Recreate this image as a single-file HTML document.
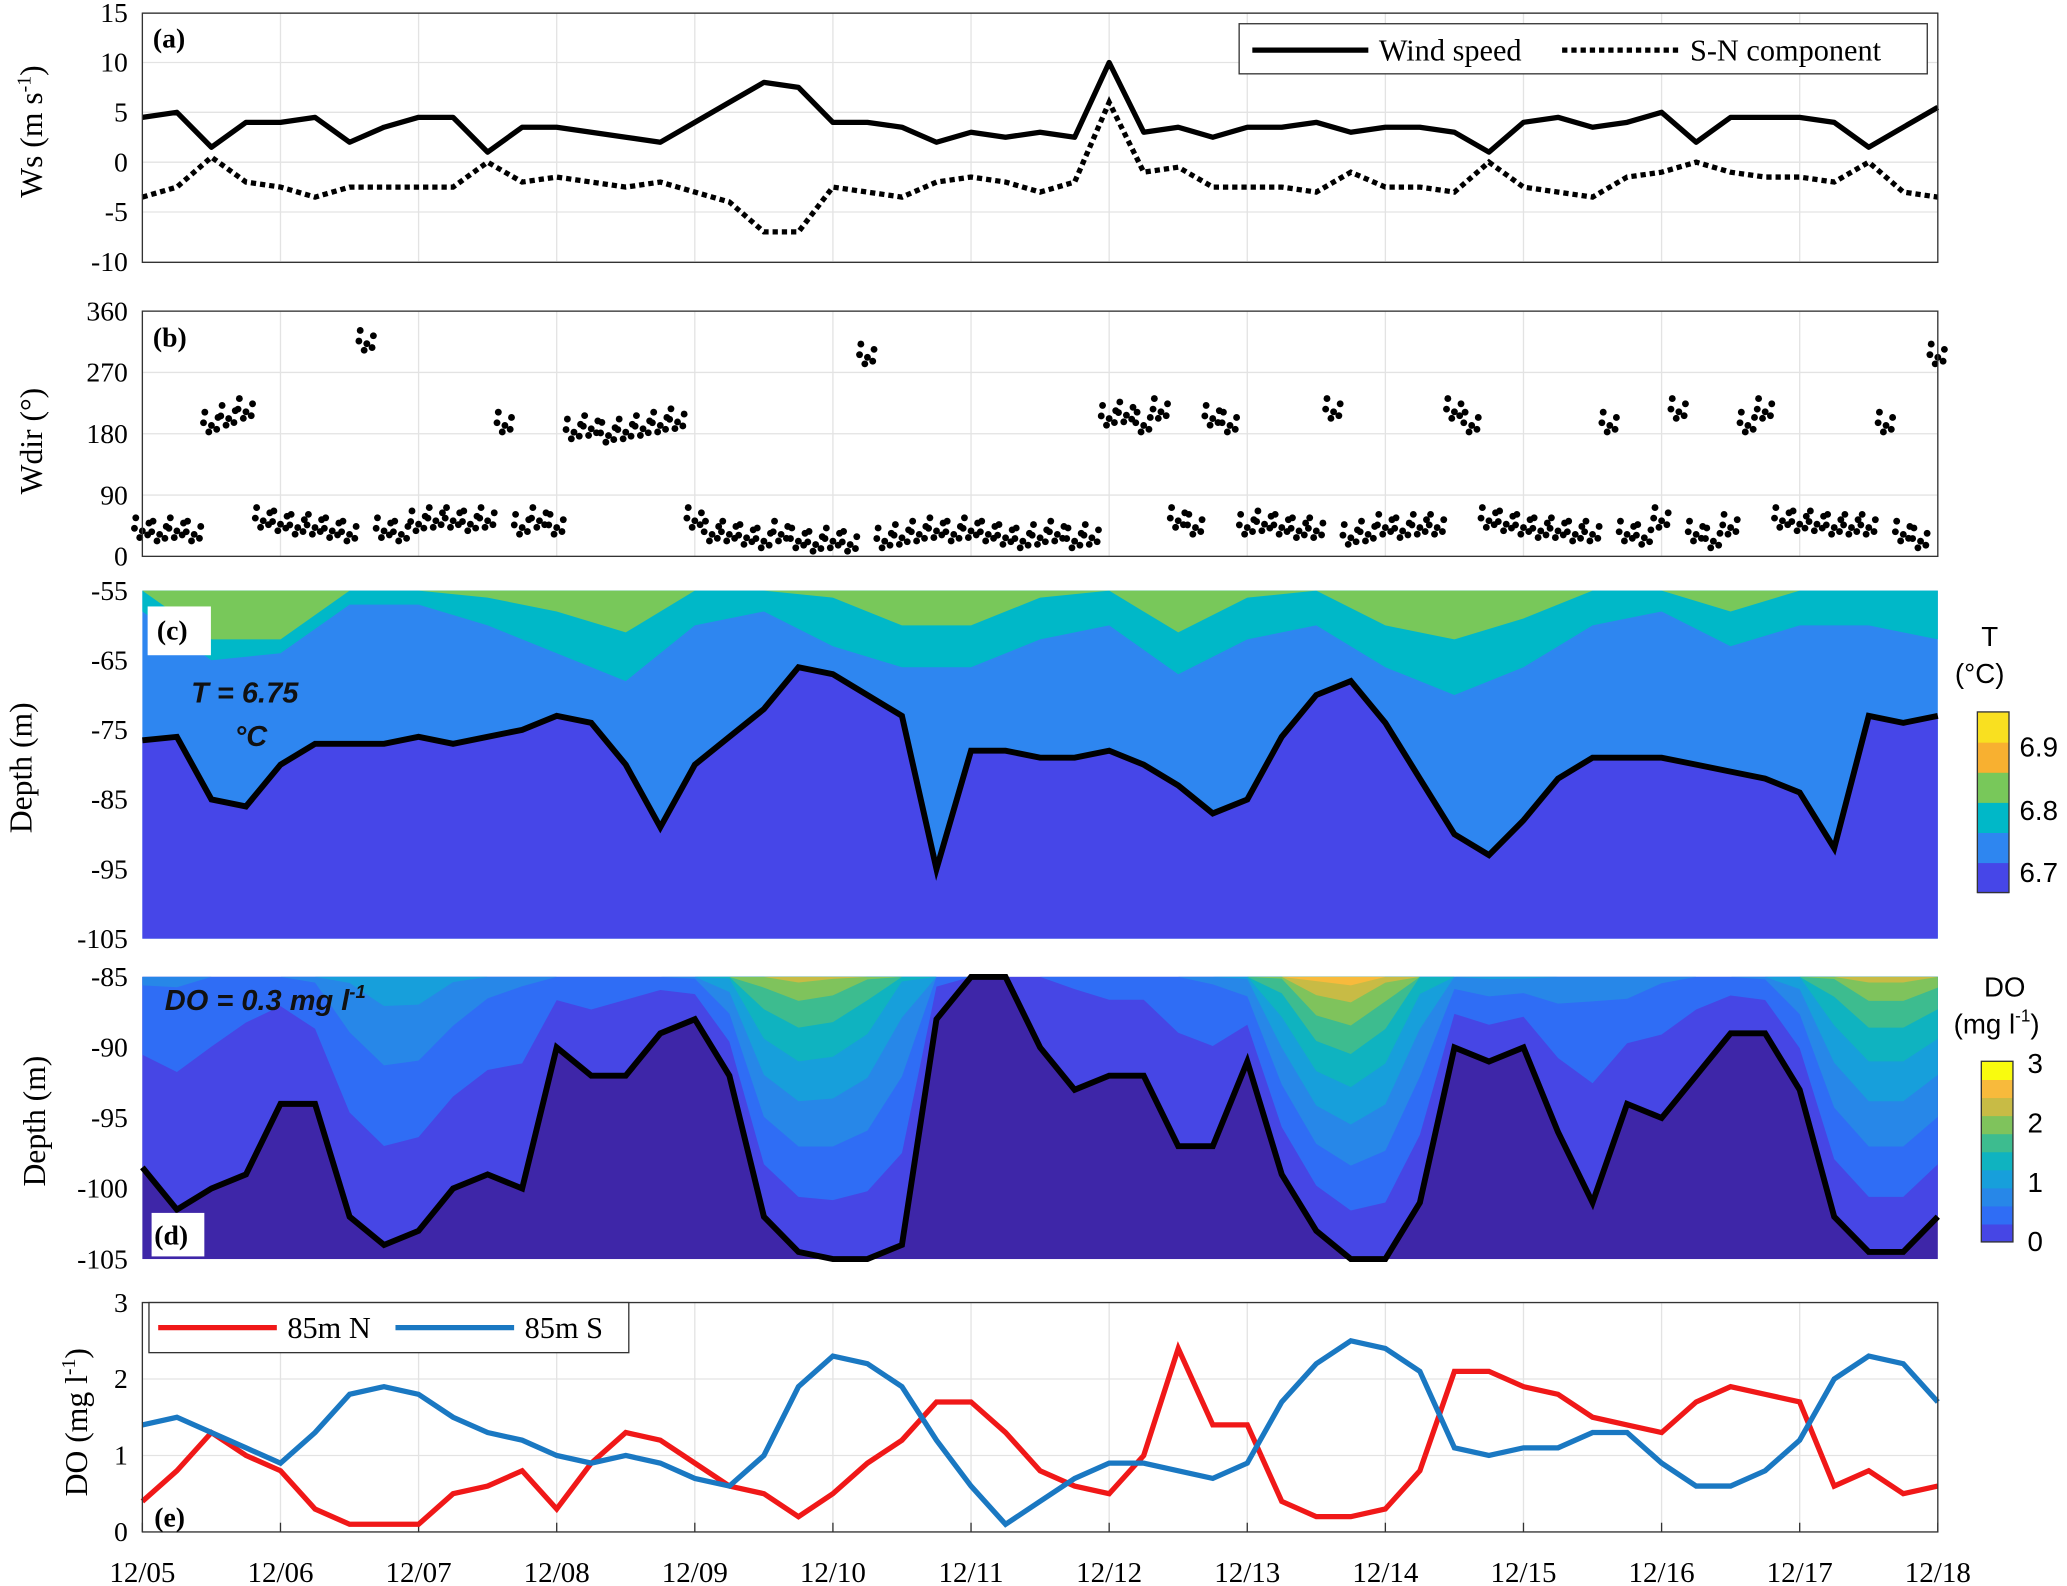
<!DOCTYPE html>
<html><head><meta charset="utf-8"><style>
html,body{margin:0;padding:0;background:#fff;}
svg{display:block;}
</style></head><body>
<svg id="fig" width="2067" height="1586" viewBox="0 0 1568 1203" preserveAspectRatio="none" xmlns="http://www.w3.org/2000/svg"></svg>
<script>
// ---- data arrays (step 0.25 day from 12/05) ----
const dayLabels = ["12/05","12/06","12/07","12/08","12/09","12/10","12/11","12/12","12/13","12/14","12/15","12/16","12/17","12/18"];
const windSpeed = [4.5,5,1.5,4, 4,4.5,2,3.5, 4.5,4.5,1,3.5, 3.5,3,2.5,2, 4,6,8,7.5, 4,4,3.5,2, 3,2.5,3,2.5, 10,3,3.5,2.5, 3.5,3.5,4,3, 3.5,3.5,3,1, 4,4.5,3.5,4, 5,2,4.5,4.5, 4.5,4,1.5,3.5, 5.5];
const windSN = [-3.5,-2.5,0.5,-2, -2.5,-3.5,-2.5,-2.5, -2.5,-2.5,0,-2, -1.5,-2,-2.5,-2, -3,-4,-7,-7, -2.5,-3,-3.5,-2, -1.5,-2,-3,-2, 6,-1,-0.5,-2.5, -2.5,-2.5,-3,-1, -2.5,-2.5,-3,0, -2.5,-3,-3.5,-1.5, -1,0,-1,-1.5, -1.5,-2,0,-3, -3.5];
// wind direction, step 1/8 day
const windDir = [45,40,45,40,200,210,220,60, 55,50,50,45,40,320,45,40, 55,60,60,55,60,200,50,60, 50,190,195,185,190,195,200,205, 60,40,40,35,30,40,30,25, 30,25,300,30,35,40,45,40, 45,40,35,30,35,40,30,35, 210,215,200,220,60,50,210,200, 50,55,50,45,45,220,35,40, 50,45,50,50,220,200,60,55, 50,45,45,40,40,200,40,35, 60,220,40,30,50,200,220,60, 55,55,50,50,50,200,40,30,300];
const tIsoDepth = [-76.5,-76,-85,-86,-80,-77,-77,-77,-76,-77,-76,-75,-73,-74,-80,-89,-80,-76,-72,-66,-67,-70,-73,-95,-78,-78,-79,-79,-78,-80,-83,-87,-85,-76,-70,-68,-74,-82,-90,-93,-88,-82,-79,-79,-79,-80,-81,-82,-84,-92,-73,-74,-73];
// step 0.5 day
const tealDepth = [-58,-65,-64,-57,-57,-60,-64,-68,-60,-58,-63,-66,-66,-62,-60,-67,-62,-60,-66,-70,-66,-60,-58,-63,-60,-60,-62];
const greenDepth = [-55,-62,-62,-55,-55,-56,-58,-61,-55,-55,-56,-60,-60,-56,-55,-61,-56,-55,-60,-62,-59,-55,-55,-58,-55,-55,-55];
const doIsoDepth = [-98.5,-101.5,-100,-99,-94,-94,-102,-104,-103,-100,-99,-100,-90,-92,-92,-89,-88,-92,-102,-104.5,-105,-105,-104,-88,-85,-85,-90,-93,-92,-92,-97,-97,-91,-99,-103,-105,-105,-101,-90,-91,-90,-96,-101,-94,-95,-92,-89,-89,-93,-102,-104.5,-104.5,-102];
const doSurface = [1.0,1.0,0.9,0.8, 0.8,1.0,1.3,1.5, 1.5,1.3,1.1,1.0, 0.9,0.9,0.8,0.8, 1.0,1.6,2.4,2.6, 2.5,2.2,1.6,0.8, 0.5,0.5,0.6,0.7, 0.8,0.8,0.9,1.0, 1.3,2.2,2.9,3.0, 2.6,1.8,1.2,1.3, 1.3,1.2,1.1,1.2, 1.0,0.9,0.9,1.0, 1.5,2.2,2.6,2.6, 2.4];
const doNorth = [0.4,0.8,1.3,1.0,0.8,0.3,0.1,0.1,0.1,0.5,0.6,0.8,0.3,0.9,1.3,1.2,0.9,0.6,0.5,0.2,0.5,0.9,1.2,1.7,1.7,1.3,0.8,0.6,0.5,1.0,2.4,1.4,1.4,0.4,0.2,0.2,0.3,0.8,2.1,2.1,1.9,1.8,1.5,1.4,1.3,1.7,1.9,1.8,1.7,0.6,0.8,0.5,0.6];
const doSouth = [1.4,1.5,1.3,1.1,0.9,1.3,1.8,1.9,1.8,1.5,1.3,1.2,1.0,0.9,1.0,0.9,0.7,0.6,1.0,1.9,2.3,2.2,1.9,1.2,0.6,0.1,0.4,0.7,0.9,0.9,0.8,0.7,0.9,1.7,2.2,2.5,2.4,2.1,1.1,1.0,1.1,1.1,1.3,1.3,0.9,0.6,0.6,0.8,1.2,2.0,2.3,2.2,1.7];
const doLevels = [0.3,0.6,0.9,1.2,1.5,1.8,2.1,2.4,2.7];
const aTicks = [15,10,5,0,-5,-10];
const bTicks = [360,270,180,90,0];
const cTicks = [-55,-65,-75,-85,-95,-105];
const dTicks = [-85,-90,-95,-100,-105];
const eTicks = [3,2,1,0];

// ---- scales ----
const X0=108, X1=1470;
const xD = d => X0 + d*(X1-X0)/13;
const yA = v => 123 - v*7.56;
const yB = v => 422 - v*186/360;
const yC = z => 448 + (-55 - z)/50*264;
const yD = z => 741 + (-85 - z)/20*214;
const yE = v => 1162 - v*58;

const NS="http://www.w3.org/2000/svg";
const svg=document.getElementById('fig');
function mk(tag, attrs, parent){const e=document.createElementNS(NS,tag);for(const k in attrs)e.setAttribute(k,attrs[k]);(parent||svg).appendChild(e);return e;}
function txt(s,x,y,opt,parent){const e=mk('text',Object.assign({x:x,y:y,'font-family':'"Liberation Serif", serif','font-size':21,fill:'#000'},opt||{}),parent);e.textContent=s;return e;}
function pts(arr){return arr.map(p=>p[0].toFixed(1)+','+p[1].toFixed(1)).join(' ');}
const parula=['#3e26a8','#4646e5','#2f6df5','#2787e8','#179fdb','#0fb3c0','#3dbc8f','#7fc35c','#c8bb45','#f8ba3c','#f9fb0e'];
function par(f){const i=Math.max(0,Math.min(10,Math.round(f*10)));return parula[i];}

let el;
// ===== panel a =====
const gA=mk('g',{});


aTicks.forEach(v=>{
  el=mk('line',{x1:X0,x2:X1,y1:yA(v),y2:yA(v),stroke:'#e3e3e3','stroke-width':1},gA);
  
  
  el=txt(String(v),97,yA(v)+7,{'text-anchor':'end'},gA);
  
  
});
for(let d=0;d<=13;d++){
  el=mk('line',{x1:xD(d),x2:xD(d),y1:10,y2:199,stroke:'#e3e3e3','stroke-width':1},gA);
  
  
}
el=mk('polyline',{points:pts(windSpeed.map((v,i)=>[xD(i*0.25),yA(v)])),fill:'none',stroke:'#000','stroke-width':4,'stroke-linejoin':'round'},gA);


el=mk('polyline',{points:pts(windSN.map((v,i)=>[xD(i*0.25),yA(v)])),fill:'none',stroke:'#000','stroke-width':4,'stroke-dasharray':'4 3'},gA);


el=mk('rect',{x:X0,y:10,width:X1-X0,height:189,fill:'none',stroke:'#333','stroke-width':1},gA);


el=mk('rect',{x:112,y:14,width:36,height:28,fill:'#fff'},gA);


el=txt('(a)',116,36,{'font-weight':'bold'},gA);


// legend a
const lgA=mk('g',{},gA);


el=mk('rect',{x:940,y:18,width:522,height:38,fill:'#fff',stroke:'#333','stroke-width':1},lgA);


el=mk('line',{x1:950,x2:1038,y1:38,y2:38,stroke:'#000','stroke-width':4},lgA);


el=txt('Wind speed',1046,46,{'font-size':23},lgA);


el=mk('line',{x1:1185,x2:1275,y1:38,y2:38,stroke:'#000','stroke-width':4,'stroke-dasharray':'4 3'},lgA);


el=txt('S-N component',1282,46,{'font-size':23},lgA);


el=txt('Ws (m s',0,0,{'font-size':24,transform:'translate(32,150) rotate(-90)'});


el.innerHTML='Ws (m s<tspan font-size="15" dy="-9">-1</tspan><tspan dy="9">)</tspan>';

// ===== panel b =====
const gB=mk('g',{});


bTicks.forEach(v=>{
  el=mk('line',{x1:X0,x2:X1,y1:yB(v),y2:yB(v),stroke:'#e3e3e3','stroke-width':1},gB);
  
  
  el=txt(String(v),97,yB(v)+7,{'text-anchor':'end'},gB);
  
  
});
for(let d=0;d<=13;d++){
  el=mk('line',{x1:xD(d),x2:xD(d),y1:236,y2:422,stroke:'#e3e3e3','stroke-width':1},gB);
  
  
}
const jit=[[-5,-6],[0,4],[5,-2],[-2,9],[4,7],[-6,2]];
windDir.forEach((v,i)=>{
  jit.forEach(o=>{
    const yy=Math.max(238,Math.min(420,yB(v)+o[1]));
    el=mk('circle',{cx:xD(i/8)+o[0],cy:yy,r:2.6,fill:'#000'},gB);
    
    
  });
});
el=mk('rect',{x:X0,y:236,width:X1-X0,height:186,fill:'none',stroke:'#333','stroke-width':1},gB);


el=txt('(b)',116,263,{'font-weight':'bold'},gB);


el=txt('Wdir (°)',0,0,{'font-size':24,transform:'translate(32,375) rotate(-90)'});



// ===== panel c =====
const gC=mk('g',{});


el=mk('rect',{x:X0,y:448,width:X1-X0,height:264,fill:'#2e86f0'},gC);


el=mk('polygon',{points:pts([[X0,yC(-55)]].concat(tealDepth.map((z,i)=>[xD(i*0.5),yC(z)])).concat([[X1,yC(-55)]])),fill:'#00b8c8'},gC);


el=mk('polygon',{points:pts([[X0,yC(-55)]].concat(greenDepth.map((z,i)=>[xD(i*0.5),yC(z)])).concat([[X1,yC(-55)]])),fill:'#78c85a'},gC);


el=mk('polygon',{points:pts([[X0,yC(-105)]].concat(tIsoDepth.map((z,i)=>[xD(i*0.25),yC(z)])).concat([[X1,yC(-105)]])),fill:'#4646e8'},gC);


el=mk('polyline',{points:pts(tIsoDepth.map((z,i)=>[xD(i*0.25),yC(z)])),fill:'none',stroke:'#000','stroke-width':4.5,'stroke-linejoin':'miter'},gC);


cTicks.forEach(v=>{
  el=txt(String(v),97,yC(v)+7,{'text-anchor':'end'},gC);
  
  
});
el=mk('rect',{x:112,y:460,width:48,height:37,fill:'#fff'},gC);


el=txt('(c)',119,485,{'font-weight':'bold'},gC);


el=txt('T = 6.75',145,533,{'font-family':'"Liberation Sans", sans-serif','font-size':22,'font-weight':'bold','font-style':'italic','fill':'#111'},gC);


el=txt('°C',178,566,{'font-family':'"Liberation Sans", sans-serif','font-size':22,'font-weight':'bold','font-style':'italic','fill':'#111'},gC);


el=txt('Depth (m)',0,0,{'font-size':24,transform:'translate(24,632) rotate(-90)'});


// colorbar c
const cbC=mk('g',{});


const cbCcols=['#4646e8','#2e86f0','#00b8c8','#78c85a','#f8b030','#f9e020'];
cbCcols.forEach((c,i)=>{
  el=mk('rect',{x:1500,y:677-(i+1)*137/6,width:24,height:137/6+0.5,fill:c},cbC);
  
  
});
el=mk('rect',{x:1500,y:540,width:24,height:137,fill:'none',stroke:'#333','stroke-width':1},cbC);


[['6.9',574],['6.8',622],['6.7',669]].forEach(t=>{
  el=txt(t[0],1532,t[1],{'font-family':'"Liberation Sans", sans-serif','font-size':21},cbC);
  
  
});
el=txt('T',1503,490,{'font-family':'"Liberation Sans", sans-serif','font-size':21},cbC);


el=txt('(°C)',1483,518,{'font-family':'"Liberation Sans", sans-serif','font-size':21},cbC);



// ===== panel d =====
const gD=mk('g',{});


el=mk('rect',{x:X0,y:741,width:X1-X0,height:214,fill:'#3e26a8'},gD);


doLevels.forEach((L,li)=>{
  const top=[[X0,yD(-85)]];
  const line=doIsoDepth.map((z,i)=>{
    const s=doSurface[i];
    let zz=-85;
    if(s>L){zz=-85+(z+85)*Math.pow((s-L)/Math.max(0.05,s-0.3),1.6);}
    return [xD(i*0.25),yD(zz)];
  });
  el=mk('polygon',{points:pts(top.concat(line).concat([[X1,yD(-85)]])),fill:par(L/3)},gD);
  
  
});
el=mk('polyline',{points:pts(doIsoDepth.map((z,i)=>[xD(i*0.25),yD(z)])),fill:'none',stroke:'#000','stroke-width':4.5},gD);


dTicks.forEach(v=>{
  el=txt(String(v),97,yD(v)+7,{'text-anchor':'end'},gD);
  
  
});
el=mk('rect',{x:115,y:920,width:40,height:33,fill:'#fff'},gD);


el=txt('(d)',117,944,{'font-weight':'bold'},gD);


el=txt('',125,766,{'font-family':'"Liberation Sans", sans-serif','font-size':22,'font-weight':'bold','font-style':'italic','fill':'#111'},gD);
el.innerHTML='DO = 0.3 mg l<tspan font-size="14" dy="-9">-1</tspan>';


el=txt('Depth (m)',0,0,{'font-size':24,transform:'translate(34,900) rotate(-90)'});


// colorbar d
const cbD=mk('g',{});


for(let i=0;i<10;i++){
  el=mk('rect',{x:1503,y:942-(i+1)*13.7,width:24,height:14.2,fill:par((i+0.5)/10)},cbD);
  
  
}
el=mk('rect',{x:1503,y:805,width:24,height:137,fill:'none',stroke:'#333','stroke-width':1},cbD);


[['3',814],['2',859],['1',904],['0',949]].forEach(t=>{
  el=txt(t[0],1538,t[1],{'font-family':'"Liberation Sans", sans-serif','font-size':21},cbD);
  
  
});
el=txt('DO',1505,756,{'font-family':'"Liberation Sans", sans-serif','font-size':21},cbD);


el=txt('',1482,784,{'font-family':'"Liberation Sans", sans-serif','font-size':21},cbD);
el.innerHTML='(mg l<tspan font-size="13" dy="-9">-1</tspan><tspan dy="9">)</tspan>';



// ===== panel e =====
const gE=mk('g',{});


eTicks.forEach(v=>{
  el=mk('line',{x1:X0,x2:X1,y1:yE(v),y2:yE(v),stroke:'#e3e3e3','stroke-width':1},gE);
  
  
  el=txt(String(v),97,yE(v)+7,{'text-anchor':'end'},gE);
  
  
});
for(let d=0;d<=13;d++){
  el=mk('line',{x1:xD(d),x2:xD(d),y1:988,y2:1162,stroke:'#e3e3e3','stroke-width':1},gE);
  
  
  el=mk('line',{x1:xD(d),x2:xD(d),y1:1162,y2:1155,stroke:'#333','stroke-width':1},gE);
  
  
  el=txt(dayLabels[d],xD(d),1200,{'text-anchor':'middle','font-size':22},gE);
  
  
}
el=mk('polyline',{points:pts(doNorth.map((v,i)=>[xD(i*0.25),yE(v)])),fill:'none',stroke:'#f01818','stroke-width':4},gE);


el=mk('polyline',{points:pts(doSouth.map((v,i)=>[xD(i*0.25),yE(v)])),fill:'none',stroke:'#1a78c2','stroke-width':4},gE);


el=mk('rect',{x:X0,y:988,width:X1-X0,height:174,fill:'none',stroke:'#333','stroke-width':1},gE);


el=txt('(e)',117,1158,{'font-weight':'bold'},gE);


const lgE=mk('g',{},gE);


el=mk('rect',{x:113,y:988,width:364,height:38,fill:'#fff',stroke:'#333','stroke-width':1},lgE);


el=mk('line',{x1:120,x2:210,y1:1007,y2:1007,stroke:'#f01818','stroke-width':4},lgE);


el=txt('85m N',218,1015,{'font-size':23},lgE);


el=mk('line',{x1:300,x2:390,y1:1007,y2:1007,stroke:'#1a78c2','stroke-width':4},lgE);


el=txt('85m S',398,1015,{'font-size':23},lgE);


el=txt('',0,0,{'font-size':24,transform:'translate(66,1135) rotate(-90)'});
el.innerHTML='DO (mg l<tspan font-size="15" dy="-9">-1</tspan><tspan dy="9">)</tspan>';


</script>
</body></html>
